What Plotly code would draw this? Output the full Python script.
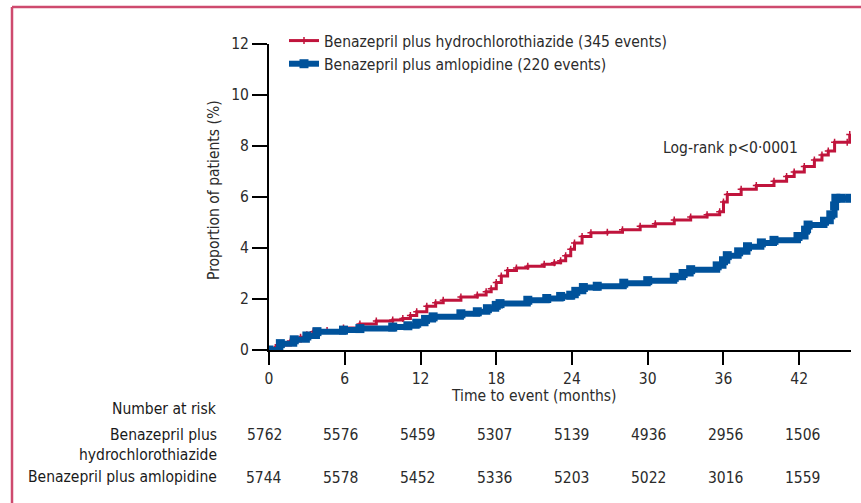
import plotly.graph_objects as go

# Kaplan-Meier style cumulative event curves (months, % of patients)
hctz_months = [0, 0.5, 0.9, 1.7, 2.5, 3.0, 3.5, 4.6, 5.9, 7.2, 8.5, 9.8, 10.6, 11.2, 11.7,
               12.5, 13.2, 13.8, 15.2, 16.5, 17.2, 17.6, 18.0, 18.4, 18.9, 19.6, 20.5,
               21.8, 22.6, 23.1, 23.5, 23.9, 24.2, 24.8, 25.5, 26.8, 28.0, 29.4, 30.6,
               32.1, 33.4, 34.7, 35.7, 36.0, 36.3, 37.4, 38.6, 40.0, 41.0, 41.6, 42.4,
               43.2, 43.8, 44.3, 44.8, 45.8, 46.0]
hctz_pct = [0, 0.1, 0.2, 0.35, 0.5, 0.6, 0.72, 0.76, 0.86, 1.02, 1.14, 1.18, 1.24, 1.35, 1.5,
            1.72, 1.85, 1.95, 2.08, 2.16, 2.28, 2.4, 2.65, 2.9, 3.12, 3.22, 3.28,
            3.36, 3.42, 3.5, 3.7, 3.95, 4.2, 4.45, 4.6, 4.62, 4.72, 4.85, 4.95,
            5.1, 5.22, 5.3, 5.42, 5.8, 6.1, 6.3, 6.45, 6.62, 6.8, 6.98, 7.2,
            7.45, 7.65, 7.8, 8.15, 8.15, 8.45]

amlo_months = [0, 0.9, 2.0, 3.0, 3.8, 5.9, 7.2, 9.8, 11.0, 11.7, 12.4, 13.0, 15.2, 16.5,
               17.3, 18.0, 18.3, 20.5, 22.0, 23.1, 23.9, 24.3, 24.9, 26.0, 28.1, 30.0,
               32.1, 32.8, 33.4, 35.5, 36.0, 36.3, 37.2, 37.9, 39.0, 40.0, 41.9, 42.5,
               42.7, 44.0, 44.5, 44.8, 44.9, 45.3, 46.0]
amlo_pct = [0, 0.25, 0.4, 0.55, 0.72, 0.78, 0.84, 0.9, 0.95, 1.05, 1.2, 1.3, 1.42, 1.5,
            1.62, 1.75, 1.82, 1.95, 2.02, 2.1, 2.15, 2.3, 2.45, 2.5, 2.62, 2.72,
            2.85, 3.0, 3.15, 3.3, 3.5, 3.7, 3.85, 4.05, 4.2, 4.3, 4.45, 4.7,
            4.9, 5.05, 5.3, 5.65, 5.95, 5.95, 5.95]

# Number at risk table
risk_months = [0, 6, 12, 18, 24, 30, 36, 42]
risk_hctz = [5762, 5576, 5459, 5307, 5139, 4936, 2956, 1506]
risk_amlo = [5744, 5578, 5452, 5336, 5203, 5022, 3016, 1559]

x_ticks = [0, 6, 12, 18, 24, 30, 36, 42]
y_ticks = [0, 2, 4, 6, 8, 10, 12]

RED = "#C0143C"
BLUE = "#00529B"
FONT = "DejaVu Sans Condensed, DejaVu Sans, sans-serif"
TXT = "#2b2b2b"
FS = 15.5

fig = go.Figure()
fig.add_trace(go.Scatter(
    x=hctz_months, y=hctz_pct, mode="lines+markers", line_shape="hv",
    name="Benazepril plus hydrochlorothiazide (345 events)",
    line=dict(color=RED, width=3),
    marker=dict(symbol="cross-thin", size=5, color=RED, line=dict(color=RED, width=1.5)),
))
fig.add_trace(go.Scatter(
    x=amlo_months, y=amlo_pct, mode="lines+markers", line_shape="hv",
    name="Benazepril plus amlopidine (220 events)",
    line=dict(color=BLUE, width=6),
    marker=dict(symbol="square", size=9, color=BLUE),
))

W, H = 861, 503
L, R, T, B = 269, 10, 44, 153
pw, ph = W - L - R, H - T - B

def px_x(p):
    return (p - L) / pw

def px_y(p):
    return (H - B - p) / ph

fig.update_layout(
    width=W, height=H,
    margin=dict(l=L, r=R, t=T, b=B),
    paper_bgcolor="white", plot_bgcolor="white",
    font=dict(family=FONT, size=FS, color=TXT),
    showlegend=True,
    legend=dict(x=px_x(284), y=px_y(24), xanchor="left", yanchor="top",
                bgcolor="rgba(0,0,0,0)", font=dict(size=FS, color=TXT),
                tracegroupgap=0, itemwidth=30),
    xaxis=dict(range=[0, 46.1], tickvals=x_ticks, ticks="outside", ticklen=13,
               tickwidth=2, tickcolor="black", showline=True, linecolor="black",
               linewidth=2, showgrid=False, zeroline=False,
               tickfont=dict(size=FS, color=TXT)),
    yaxis=dict(range=[0, 12], tickvals=y_ticks, ticks="outside", ticklen=15,
               tickwidth=2, tickcolor="black", showline=True, linecolor="black",
               linewidth=2, showgrid=False, zeroline=False,
               tickfont=dict(size=FS, color=TXT)),
)

def label(text, x, y, xanchor="center", **kw):
    return dict(text=text, xref="paper", yref="paper", x=px_x(x), y=px_y(y),
                xanchor=xanchor, yanchor="middle", showarrow=False,
                font=dict(size=FS, color=kw.pop("color", TXT)), **kw)

ann = [
    label("Time to event (months)", 533, 396),
    label("Proportion of patients (%)", 214, 190, textangle=-90),
    label("Log-rank p<0·0001", 730, 148),
    # Number-at-risk row labels
    label("Number at risk", 219, 409, xanchor="right", color="#1a1a1a"),
    label("Benazepril plus<br>hydrochlorothiazide", 219, 445, xanchor="right",
          align="right", color="#1a1a1a"),
    label("Benazepril plus amlopidine", 219, 477, xanchor="right", color="#1a1a1a"),
]
for i, (m, a, b) in enumerate(zip(risk_months, risk_hctz, risk_amlo)):
    shift = -5 + 1.2 * i
    for val, ypix in ((a, 435), (b, 478)):
        ann.append(dict(text=str(val), xref="x", yref="paper", x=m, xshift=shift,
                        y=px_y(ypix), xanchor="center", yanchor="middle",
                        showarrow=False, font=dict(size=FS, color=TXT)))
fig.update_layout(annotations=ann)

# Panel frame (top and left edges)
frame = "#CE4A6E"
fig.add_shape(type="line", xref="paper", yref="paper",
              x0=px_x(12), x1=px_x(880), y0=px_y(7), y1=px_y(7),
              line=dict(color=frame, width=2.5))
fig.add_shape(type="line", xref="paper", yref="paper",
              x0=px_x(12), x1=px_x(12), y0=px_y(7), y1=px_y(520),
              line=dict(color=frame, width=2.5))

fig.write_html("out.html")
